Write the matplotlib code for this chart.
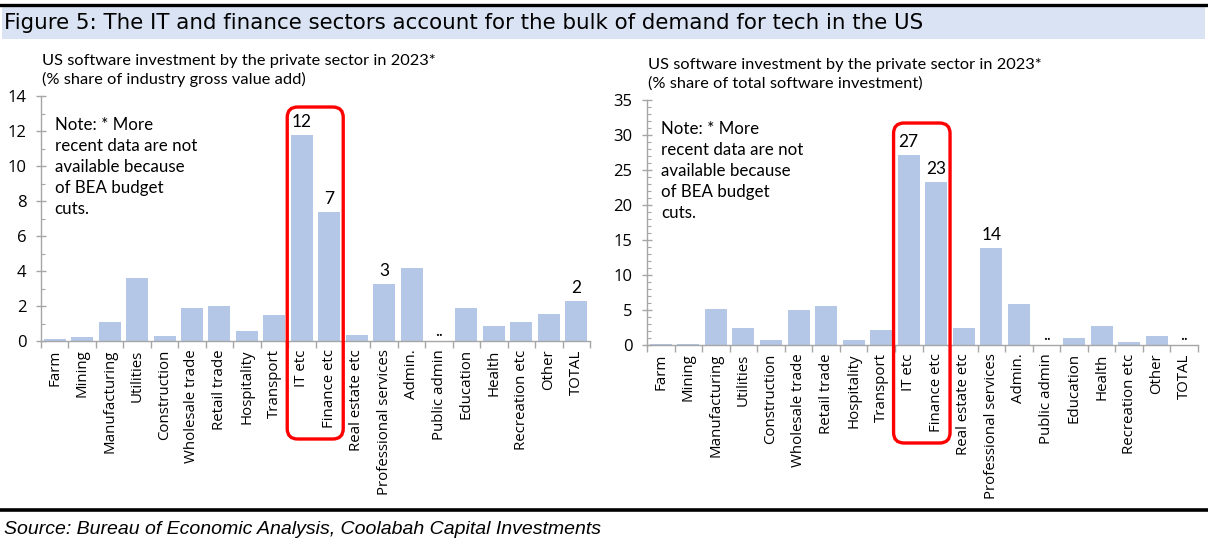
import numpy as np
import matplotlib
matplotlib.use("Agg")
import matplotlib.pyplot as plt
from matplotlib.patches import FancyBboxPatch, Rectangle
from matplotlib.lines import Line2D
import matplotlib.transforms as mtransforms

# Sectors (same order in both panels)
sectors = ["Farm", "Mining", "Manufacturing", "Utilities", "Construction",
           "Wholesale trade", "Retail trade", "Hospitality", "Transport",
           "IT etc", "Finance etc", "Real estate etc", "Professional services",
           "Admin.", "Public admin", "Education", "Health", "Recreation etc",
           "Other", "TOTAL"]

# % share of industry gross value add (nan = not available, shown as "..")
share_gva = [0.1, 0.25, 1.1, 3.6, 0.3, 1.9, 2.0, 0.55, 1.5, 11.8, 7.4, 0.35,
             3.25, 4.2, np.nan, 1.9, 0.85, 1.1, 1.55, 2.3]
gva_labels = {9: "12", 10: "7", 12: "3", 19: "2"}

# % share of total software investment
share_total = [0.1, 0.15, 5.1, 2.5, 0.7, 5.0, 5.6, 0.7, 2.2, 27.1, 23.3, 2.4,
               13.9, 5.8, np.nan, 1.0, 2.7, 0.5, 1.3, np.nan]
total_labels = {9: "27", 10: "23", 12: "14"}

BAR = "#b4c7e7"
AXC = "#a6a6a6"
FONT = "Open Sans"
NOTE_FONT = "Lato"

W, H = 1208, 541
fig = plt.figure(figsize=(W / 100, H / 100), dpi=100)


def fx(px):
    return px / W


def fy(py):
    return 1 - py / H


# header band and rules
fig.add_artist(Rectangle((fx(2), fy(39)), fx(1203), 32 / H, transform=fig.transFigure,
                         facecolor="#dae3f3", edgecolor="none"))
fig.add_artist(Line2D([0, 1], [fy(5), fy(5)], transform=fig.transFigure,
                      color="black", linewidth=2.4))
fig.add_artist(Line2D([0, 1], [fy(510), fy(510)], transform=fig.transFigure,
                      color="black", linewidth=2.6))
fig.text(fx(4), fy(23), "Figure 5: The IT and finance sectors account for the bulk of demand for tech in the US",
         fontsize=15.4, family="DejaVu Sans", va="center", ha="left")
fig.text(fx(4), fy(529), "Source: Bureau of Economic Analysis, Coolabah Capital Investments",
         fontsize=14, family="Liberation Sans", style="italic", va="center", ha="left")


def panel(x0, x1, ytop, ybot, values, labels, ymax, major, sub, box_top, box_x):
    ax = fig.add_axes([fx(x0), fy(ybot), fx(x1 - x0), (ybot - ytop) / H])
    x = np.arange(len(sectors))
    ax.bar(x, np.nan_to_num(values), width=0.8, color=BAR, zorder=2)
    ax.set_xlim(-0.5, len(sectors) - 0.5)
    ax.set_ylim(0, ymax)
    for s in ["top", "right"]:
        ax.spines[s].set_visible(False)
    for s in ["left", "bottom"]:
        ax.spines[s].set_color(AXC)
        ax.spines[s].set_linewidth(1.0)
    ax.set_yticks(np.arange(0, ymax + 1, major))
    ax.set_yticks(np.arange(0, ymax + 0.5, 1), minor=True)
    ax.tick_params(axis="y", which="major", direction="inout", length=7, width=1,
                   color=AXC, labelsize=12, pad=7)
    ax.tick_params(axis="y", which="minor", direction="in", length=3, width=0.8, color=AXC)
    ax.set_xticks(x)
    ax.set_xticklabels(sectors, rotation=90, fontsize=10.8, family=FONT)
    ax.tick_params(axis="x", which="major", length=0, pad=6)
    ax.set_xticks(np.arange(-0.5, len(sectors)), minor=True)
    ax.tick_params(axis="x", which="minor", direction="out", length=5, width=1, color=AXC)
    for t in ax.get_yticklabels():
        t.set_family(FONT)

    for i, lab in labels.items():
        ax.text(i, values[i] + ymax * 0.02, lab, ha="center", va="bottom",
                fontsize=12.5, family=NOTE_FONT)
    for i, v in enumerate(values):
        if np.isnan(v):
            ax.text(i, ymax * 0.01, "..", ha="center", va="bottom", fontsize=12,
                    family=NOTE_FONT)

    # note
    ax.text(0.025, 0.915, "Note: * More\nrecent data are not\navailable because\nof BEA budget\ncuts.",
            transform=ax.transAxes, ha="left", va="top", fontsize=12.2,
            family=NOTE_FONT, linespacing=1.38)
    # subtitle
    fig.text(fx(x0 + 1), fy(ytop - 25.5), sub, ha="left", va="center",
             fontsize=11.75, family=NOTE_FONT, linespacing=1.36)

    # red highlight box around IT and Finance
    tr = mtransforms.blended_transform_factory(ax.transData, ax.transAxes)
    xa, xb = box_x
    box = FancyBboxPatch((xa, -0.4), xb - xa, box_top + 0.4,
                         boxstyle="round,pad=0,rounding_size=0.38",
                         mutation_aspect=0.112,
                         transform=tr, facecolor="none", edgecolor="#ff0000",
                         linewidth=2.4, clip_on=False, zorder=5)
    ax.add_patch(box)
    return ax


panel(41, 590, 96, 341, share_gva, gva_labels, 14, 2,
      "US software investment by the private sector in 2023*\n(% share of industry gross value add)",
      0.955, (8.47, 10.51))
panel(647, 1198, 100, 345, share_total, total_labels, 35, 5,
      "US software investment by the private sector in 2023*\n(% share of total software investment)",
      0.906, (8.45, 10.5))

fig.savefig("out.png", dpi=100)
